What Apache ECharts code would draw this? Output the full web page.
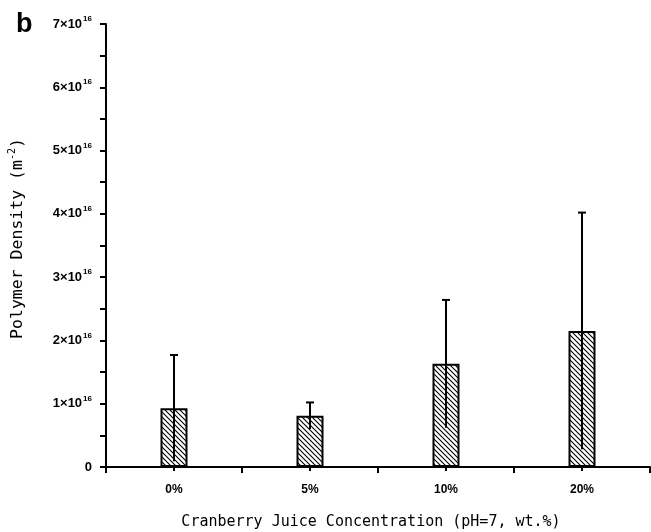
<!DOCTYPE html>
<html>
<head>
<meta charset="utf-8">
<script src="https://cdn.jsdelivr.net/npm/echarts@6/dist/echarts.min.js"></script>
<style>
	html, body { margin: 0; padding: 0; background: #fff; }
	#chart { width: 651px; height: 532px; }
</style>
</head>
<body>
<div id="chart"></div>
<script>
	// == data (values in units of 1e16 m^-2) ==
	const categories = ['0%', '5%', '10%', '20%'];
	const density = [0.93, 0.81, 1.63, 2.15];
	const errors = [0.84, 0.21, 1.01, 1.87];
	const yTicks = [0, 1, 2, 3, 4, 5, 6, 7];

	// hatch pattern for the bars
	const hatch = document.createElement('canvas');
	hatch.width = 5;
	hatch.height = 5;
	const hc = hatch.getContext('2d');
	hc.fillStyle = '#fff';
	hc.fillRect(0, 0, 5, 5);
	hc.strokeStyle = '#000';
	hc.lineWidth = 1.1;
	hc.beginPath();
	hc.moveTo(-1, -1); hc.lineTo(6, 6);
	hc.moveTo(-1, 4); hc.lineTo(1, 6);
	hc.moveTo(4, -1); hc.lineTo(6, 1);
	hc.stroke();

	const FONT = '"Liberation Sans", Arial, sans-serif';
	const WIDE = '"DejaVu Sans Mono", monospace';
	var myChart = echarts.init(document.getElementById('chart'));
	var option = {
		animation: false,
		backgroundColor: '#fff',
		title: {
			text: 'b',
			left: 11,
			top: 6,
			textStyle: { fontFamily: FONT, fontSize: 27, fontWeight: 'bold', color: '#000' },
		},
		grid: { left: 106, right: 1, top: 24, bottom: 65, outerBoundsMode: 'none' },
		xAxis: [
			{
				type: 'category',
				data: categories,
				boundaryGap: true,
				axisLine: { lineStyle: { color: '#000', width: 2 } },
				axisTick: { show: true, alignWithLabel: false, length: 6, lineStyle: { color: '#000', width: 2 } },
				axisLabel: { fontFamily: FONT, fontSize: 12, fontWeight: 'bold', color: '#000', margin: 17 },
				name: 'Cranberry Juice Concentration (pH=7, wt.%)',
				nameLocation: 'middle',
				nameGap: 48,
				nameTextStyle: { fontFamily: WIDE, fontSize: 15, color: '#000', padding: [0, 14, 0, 0] },
			},
			{
				type: 'category',
				data: categories,
				position: 'bottom',
				axisLine: { show: false },
				axisTick: { show: true, alignWithLabel: true, length: 4, lineStyle: { color: '#000', width: 2 } },
				axisLabel: { show: false },
			},
		],
		yAxis: {
			type: 'value',
			min: yTicks[0],
			max: yTicks[yTicks.length - 1],
			interval: 1,
			axisLine: { show: true, lineStyle: { color: '#000', width: 2 } },
			axisTick: { show: true, length: 6, lineStyle: { color: '#000', width: 2 } },
			minorTick: { show: true, splitNumber: 2, length: 6, lineStyle: { color: '#000', width: 2 } },
			splitLine: { show: false },
			axisLabel: {
				margin: 14,
				formatter: (v) => (v === 0 ? '{b|0}' : '{b|' + v + '×10}{s|16}'),
				rich: {
					b: { fontFamily: FONT, fontSize: 13, fontWeight: 'bold', color: '#000' },
					s: { fontFamily: FONT, fontSize: 8, fontWeight: 'bold', color: '#000', padding: [0, 0, 10, 1] },
				},
			},
			name: '{n|Polymer Density (m}{s|-2}{n|)}',
			nameLocation: 'middle',
			nameGap: 78,
			nameTextStyle: {
				padding: [0, 0, 0, 14],
				rich: {
					n: { fontFamily: WIDE, fontSize: 16.5, color: '#000' },
					s: { fontFamily: WIDE, fontSize: 10, color: '#000', padding: [0, 0, 11, 0] },
				},
			},
		},
		series: [
			{
				name: 'Polymer Density',
				type: 'bar',
				barWidth: 27,
				data: density,
				itemStyle: {
					color: { image: hatch, repeat: 'repeat' },
					borderColor: '#000',
					borderWidth: 2,
				},
				z: 2,
			},
			{
				name: 'Error',
				type: 'custom',
				z: 3,
				data: density.map((d, i) => [i, d - errors[i], d + errors[i]]),
				renderItem: function (params, api) {
					const lo = api.coord([api.value(0), api.value(1)]);
					const hi = api.coord([api.value(0), api.value(2)]);
					const style = { stroke: '#000', lineWidth: 2 };
					return {
						type: 'group',
						children: [
							{ type: 'line', shape: { x1: hi[0], y1: hi[1], x2: lo[0], y2: lo[1] }, style },
							{ type: 'line', shape: { x1: hi[0] - 4, y1: hi[1], x2: hi[0] + 4, y2: hi[1] }, style },
						],
					};
				},
			},
		],
	};
	myChart.setOption(option);
</script>
</body>
</html>
